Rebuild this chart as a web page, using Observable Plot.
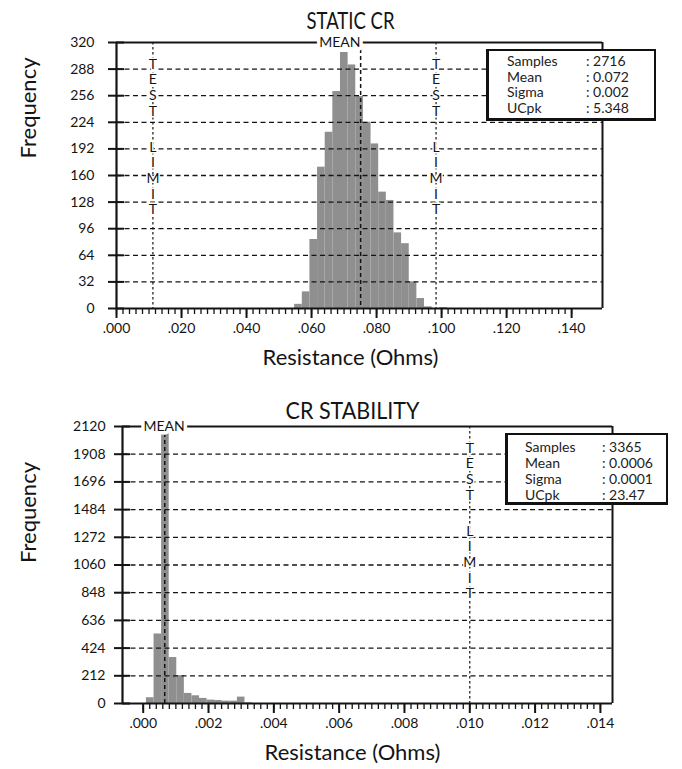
<!DOCTYPE html>
<html><head><meta charset="utf-8">
<script src="https://cdn.jsdelivr.net/npm/d3@7"></script>
<script src="https://cdn.jsdelivr.net/npm/@observablehq/plot@0.6"></script>
<style>
body{margin:0;background:#fff;}
#wrap{position:relative;width:682px;height:769px;overflow:hidden;background:#fff;}
#wrap svg{display:block;}
.legend{position:absolute;background:#fff;border:2px solid #111;border-left-width:3px;border-bottom-width:3px;font-family:Lato, sans-serif;font-size:14px;line-height:16px;color:#222;box-sizing:border-box;}
.legend .row{position:absolute;white-space:nowrap;}
</style></head><body><div id="wrap"></div>
<script>
// ---------- STATIC CR ----------
const staticTitle = "STATIC CR";
const staticBinStart = 0.0548;
const staticBinWidth = 0.00235;
const staticCounts = [5, 20, 83, 170, 212, 261, 308, 293, 255, 224, 198, 140, 130, 91, 78, 32, 12, 2, 0, 1];
const staticYTicks = [0, 32, 64, 96, 128, 160, 192, 224, 256, 288, 320];
const staticXTicks = [0, 0.02, 0.04, 0.06, 0.08, 0.10, 0.12, 0.14];
const staticMean = 0.0751;
const staticMeanLabelAt = 0.0687;
const staticLimits = [0.0112, 0.0983];
const staticStatLabels = ["Samples", "Mean", "Sigma", "UCpk"];
const staticStatValues = [": 2716", ": 0.072", ": 0.002", ": 5.348"];

// ---------- CR STABILITY ----------
const stabTitle = "CR STABILITY";
const stabBinStart = 0.0001;
const stabBinWidth = 0.000232;
const stabCounts = [44, 532, 2069, 352, 213, 77, 59, 39, 26, 23, 18, 18, 49, 5];
const stabYTicks = [0, 212, 424, 636, 848, 1060, 1272, 1484, 1696, 1908, 2120];
const stabXTicks = [0, 0.002, 0.004, 0.006, 0.008, 0.010, 0.012, 0.014];
const stabMean = 0.00066;
const stabMeanLabelAt = 0.00064;
const stabLimits = [0.0100];
const stabStatLabels = ["Samples", "Mean", "Sigma", "UCpk"];
const stabStatValues = [": 3365", ": 0.0006", ": 0.0001", ": 23.47"];

const xLabel = "Resistance (Ohms)";
const yLabel = "Frequency";

const font = "Lato, 'Noto Sans', sans-serif";
const fmtX = d => d3.format(".3f")(d).replace(/^0/, "");
const fmtY = d3.format("d");

function chart(cfg) {
  const bins = cfg.counts.map((c, i) => ({
    x1: cfg.binStart + i * cfg.binWidth,
    x2: cfg.binStart + (i + 1) * cfg.binWidth,
    count: c
  }));
  const [xmin, xmax] = cfg.xDomain;
  const ymax = cfg.yTicks[cfg.yTicks.length - 1];
  const minor = d3.range(0, Math.round(cfg.xTicks[cfg.xTicks.length - 1] / cfg.minorStep) + 1).map(i => i * cfg.minorStep);
  const ink = "#141414";
  const svg = Plot.plot({
    width: 682,
    height: cfg.height,
    marginLeft: cfg.ml, marginRight: cfg.mr, marginTop: cfg.mt, marginBottom: cfg.mb,
    x: {domain: cfg.xDomain, label: null},
    y: {domain: [0, ymax], label: null},
    style: {fontFamily: font, fontSize: "14px", color: ink, background: "white", overflow: "visible"},
    marks: [
      Plot.rectY(bins, {x1: "x1", x2: "x2", y: "count", fill: "#8f8f8f"}),
      Plot.gridY(cfg.yTicks.slice(1, -1), {stroke: ink, strokeOpacity: 1, strokeWidth: 1.3, strokeDasharray: "5,3.5"}),
      Plot.ruleX(cfg.limits, {stroke: ink, strokeWidth: 1.2, strokeDasharray: "2.5,2.5"}),
      Plot.ruleX([cfg.mean], {stroke: ink, strokeWidth: 1.5, strokeDasharray: "4,3"}),
      Plot.ruleY([ymax], {stroke: ink, strokeWidth: 2}),
      Plot.ruleX([xmax], {stroke: ink, strokeWidth: 2}),
      Plot.ruleY([0], {stroke: ink, strokeWidth: 2}),
      Plot.ruleX([xmin], {stroke: ink, strokeWidth: 2.2}),
      Plot.axisY(cfg.yTicks, {anchor: "left", tickSize: 16, dx: 8, tickPadding: cfg.yPad, strokeWidth: 2, fontSize: 14, tickFormat: fmtY, label: null}),
      Plot.axisX(cfg.xTicks, {anchor: "bottom", tickSize: 10, tickPadding: 5, strokeWidth: 2, tickFormat: fmtX, fontSize: 14, label: null}),
      Plot.axisX(minor, {anchor: "bottom", tickSize: 6, strokeWidth: 1.3, tickFormat: () => "", label: null}),
      Plot.text(["MEAN"], {x: cfg.meanLabelAt, y: ymax, fill: ink, stroke: "white", strokeWidth: 7, fontSize: 14, lineAnchor: "middle"}),
      ...cfg.limits.flatMap(L => [
        Plot.text(["T\nE\nS\nT"], {x: L, frameAnchor: "top", lineAnchor: "middle", dy: 44.7, lineHeight: 1.12, fill: ink, stroke: "white", strokeWidth: 3, fontSize: 14}),
        Plot.text(["L\nI\nM\nI\nT"], {x: L, frameAnchor: "top", lineAnchor: "middle", dy: 135.5, lineHeight: 1.12, fill: ink, stroke: "white", strokeWidth: 3, fontSize: 14})
      ]),
      Plot.text([cfg.title], {frameAnchor: "top", lineAnchor: "middle", dx: cfg.titleDx, dy: cfg.titleDy, fontSize: 24, fill: ink, className: "ttl"}),
      Plot.text([yLabel], {frameAnchor: "left", lineAnchor: "middle", rotate: -90, dx: cfg.yLabDx, dy: cfg.yLabDy, fontSize: 22, fill: ink}),
      Plot.text([xLabel], {frameAnchor: "bottom", lineAnchor: "middle", dx: cfg.xLabDx, dy: 49, fontSize: 22, fill: ink})
    ]
  });
  d3.select(svg).selectAll("text").filter(function () { return this.textContent === cfg.title; })
    .attr("textLength", cfg.titleLen).attr("lengthAdjust", "spacingAndGlyphs");
  return svg;
}

function legend(labels, values, box) {
  const div = document.createElement("div");
  div.className = "legend";
  Object.assign(div.style, {left: box.left + "px", top: box.top + "px", width: box.w + "px", height: box.h + "px"});
  labels.forEach((lab, i) => {
    const a = document.createElement("div");
    a.className = "row"; a.textContent = lab;
    Object.assign(a.style, {left: box.tx + "px", top: (box.ty + i * box.step) + "px"});
    const b = document.createElement("div");
    b.className = "row"; b.textContent = values[i];
    Object.assign(b.style, {left: box.vx + "px", top: (box.ty + i * box.step) + "px"});
    div.append(a, b);
  });
  return div;
}

const wrap = document.getElementById("wrap");
wrap.append(chart({
  title: staticTitle, titleLen: 88, counts: staticCounts, binStart: staticBinStart, binWidth: staticBinWidth,
  yTicks: staticYTicks, xTicks: staticXTicks, minorStep: 0.002, xDomain: [0, 0.1495],
  mean: staticMean, meanLabelAt: staticMeanLabelAt, limits: staticLimits,
  height: 385, ml: 116, mr: 80, mt: 42, mb: 77, yPad: 14,
  titleDx: -9, titleDy: -21, yLabDx: -88, yLabDy: -17, xLabDx: -9
}));
wrap.append(chart({
  title: stabTitle, titleLen: 134, counts: stabCounts, binStart: stabBinStart, binWidth: stabBinWidth,
  yTicks: stabYTicks, xTicks: stabXTicks, minorStep: 0.0002, xDomain: [-0.000634, 0.01437],
  mean: stabMean, meanLabelAt: stabMeanLabelAt, limits: stabLimits,
  height: 384, ml: 122, mr: 70, mt: 41, mb: 66, yPad: 9,
  titleDx: -15, titleDy: -15, yLabDx: -94, yLabDy: -2, xLabDx: -15
}));
wrap.append(legend(staticStatLabels, staticStatValues, {left: 486, top: 49, w: 170, h: 72, tx: 18, vx: 97, ty: 2, step: 15.7}));
wrap.append(legend(stabStatLabels, stabStatValues, {left: 505, top: 433, w: 163, h: 72, tx: 17, vx: 94, ty: 4, step: 16}));
</script>
</body></html>
